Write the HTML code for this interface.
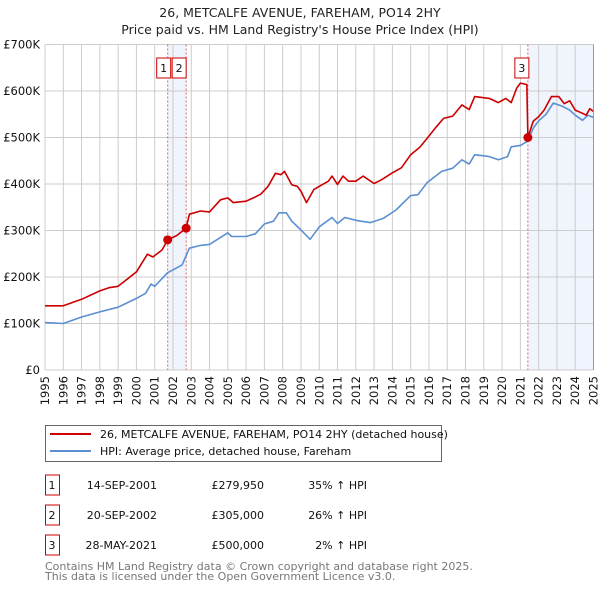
<!DOCTYPE html>
<html><head><meta charset="utf-8">
<style>
body{margin:0;background:#fff;font-family:"DejaVu Sans","Liberation Sans",sans-serif;}
svg text{font-family:"DejaVu Sans","Liberation Sans",sans-serif;}
</style></head>
<body>
<svg id="chart" width="600" height="590" xmlns="http://www.w3.org/2000/svg">
<text x="300" y="17" font-size="12.5" text-anchor="middle" fill="#222">26, METCALFE AVENUE, FAREHAM, PO14 2HY</text>
<text x="300" y="34" font-size="12.5" text-anchor="middle" fill="#222">Price paid vs. HM Land Registry's House Price Index (HPI)</text>
<g id="plot"></g>
<g>
<rect x="45.5" y="425.5" width="396" height="36" fill="#fff" stroke="#666"/>
<line x1="50" y1="434" x2="91" y2="434" stroke="#cc0000" stroke-width="2"/>
<text x="100" y="438" font-size="11" fill="#111">26, METCALFE AVENUE, FAREHAM, PO14 2HY (detached house)</text>
<line x1="50" y1="451" x2="91" y2="451" stroke="#5b8fd1" stroke-width="2"/>
<text x="100" y="455" font-size="11" fill="#111">HPI: Average price, detached house, Fareham</text>
</g>
<g id="table"></g>
<text x="45" y="570" font-size="11" fill="#777">Contains HM Land Registry data © Crown copyright and database right 2025.</text>
<text x="45" y="580" font-size="11" fill="#777">This data is licensed under the Open Government Licence v3.0.</text>
</svg>
<script>
const hpiYears=[1995,1996,1997,1998,1999,2000,2000.5,2000.8,2001,2001.7,2002.5,2002.9,2003.5,2004,2005,2005.2,2006,2006.5,2007,2007.5,2007.8,2008.2,2008.5,2009,2009.5,2010,2010.7,2011,2011.4,2012.1,2012.8,2013.5,2014.2,2015,2015.4,2015.9,2016.7,2017.3,2017.8,2018.2,2018.5,2019.3,2019.8,2020.3,2020.5,2021,2021.4,2021.7,2022,2022.4,2022.8,2023.3,2023.7,2024,2024.4,2024.7,2025];
const hpiValues=[102,100,114,125,135,154,165,185,180,209,226,262,268,270,295,287,287,293,314,320,338,338,320,301,281,308,328,315,328,321,317,326,344,375,377,403,427,434,452,443,463,459,452,459,480,483,492,520,536,550,574,567,559,548,537,548,543];
const priceYears=[1995,1996,1997,1998,1998.5,1999,2000,2000.6,2000.9,2001.4,2001.71,2002.2,2002.72,2002.9,2003.5,2004,2004.6,2005,2005.3,2006,2006.4,2006.8,2007.2,2007.6,2007.9,2008.1,2008.5,2008.8,2009,2009.3,2009.7,2010,2010.5,2010.7,2011,2011.3,2011.6,2012,2012.4,2013,2013.4,2014,2014.5,2015,2015.5,2015.9,2016.4,2016.8,2017.3,2017.8,2018.2,2018.5,2019.3,2019.8,2020.2,2020.5,2020.8,2021,2021.35,2021.41,2021.7,2022,2022.3,2022.7,2023.1,2023.4,2023.7,2024,2024.4,2024.6,2024.8,2025];
const priceValues=[138,138,152,170,177,180,211,249,243,258,280,289,305,335,342,340,366,370,360,363,370,378,395,423,420,427,398,395,384,360,388,395,406,417,399,417,406,406,417,401,409,424,435,463,479,498,523,541,546,570,560,588,584,575,584,575,606,617,614,500,535,545,559,588,588,573,579,559,552,548,562,556];
const saleLabels=["1","2","3"];
const saleYears=[2001.71,2002.72,2021.41];
const saleValues=[279.95,305,500];
const saleDates=["14-SEP-2001","20-SEP-2002","28-MAY-2021"];
const salePrices=["£279,950","£305,000","£500,000"];
const saleHpi=["35% ↑ HPI","26% ↑ HPI","2% ↑ HPI"];
const yTicks=[0,100,200,300,400,500,600,700];
const yTickLabels=["£0","£100K","£200K","£300K","£400K","£500K","£600K","£700K"];
const xTicks=[1995,1996,1997,1998,1999,2000,2001,2002,2003,2004,2005,2006,2007,2008,2009,2010,2011,2012,2013,2014,2015,2016,2017,2018,2019,2020,2021,2022,2023,2024,2025];

const NS="http://www.w3.org/2000/svg";
const X0=45,X1=593.5,Y0=370,Y1=44.5;
const xs=y=>X0+(y-1995)/30*(X1-X0);
const ys=v=>Y0-v/700*(Y0-Y1);
const plot=document.getElementById('plot');
function mk(tag,attrs,parent){const e=document.createElementNS(NS,tag);for(const k in attrs)e.setAttribute(k,attrs[k]);(parent||plot).appendChild(e);return e;}

let b=mk('rect',{x:xs(saleYears[0]),y:Y1,width:xs(saleYears[1])-xs(saleYears[0]),height:Y0-Y1,fill:'#f0f4fc'});


b=mk('rect',{x:xs(saleYears[2]),y:Y1,width:X1-xs(saleYears[2]),height:Y0-Y1,fill:'#f0f4fc'});



xTicks.forEach((t,i)=>{
  const g=mk('line',{x1:xs(t),x2:xs(t),y1:Y1,y2:Y0,stroke:'#ccc','stroke-width':1});
  
  
  const tx=mk('text',{x:0,y:0,'font-size':11.5,fill:'#111','text-anchor':'end',transform:`translate(${xs(t)+4},${Y0+6}) rotate(-90)`});
  tx.textContent=t;
  
  
});
yTicks.forEach((t,i)=>{
  const g=mk('line',{x1:X0,x2:X1,y1:ys(t),y2:ys(t),stroke:'#ccc','stroke-width':1});
  
  
  const tx=mk('text',{x:40,y:ys(t)+4,'font-size':11.5,fill:'#111','text-anchor':'end'});
  tx.textContent=yTickLabels[i];
  
  
});

saleYears.forEach((s,i)=>{
  const l=mk('line',{x1:xs(s),x2:xs(s),y1:Y1,y2:Y0,stroke:'#e06060','stroke-width':1,'stroke-dasharray':'2,2'});
  
  
  const cx=i===0?xs(s)-4:(i===1?xs(s)-7:xs(s)-6);
  const r=mk('rect',{x:cx-7,y:58,width:14,height:20,fill:'#fff',stroke:'#cc0000'});
  
  
  const t=mk('text',{x:cx,y:72,'font-size':11,'text-anchor':'middle',fill:'#111'});
  t.textContent=saleLabels[i];
  
  
});

function line(xa,va,color,name){
  const d=xa.map((x,i)=>(i?'L':'M')+xs(x).toFixed(1)+','+ys(va[i]).toFixed(1)).join('');
  const p=mk('path',{d:d,fill:'none',stroke:color,'stroke-width':1.6,'stroke-linejoin':'round'});
  
  
}
line(hpiYears,hpiValues,'#5b8fd1','hpi-line');
line(priceYears,priceValues,'#cc0000','price-paid-line');
saleYears.forEach((s,i)=>{
  const c=mk('circle',{cx:xs(s),cy:ys(saleValues[i]),r:4.5,fill:'#cc0000'});
  
  
});
mk('line',{x1:X1,x2:X1,y1:Y1,y2:Y0,stroke:'#999'});

const tb=document.getElementById('table');
saleLabels.forEach((lab,i)=>{
  const y=485+i*30;
  const r=mk('rect',{x:45.5,y:y-10,width:14,height:20,fill:'#fff',stroke:'#cc0000'},tb);
  
  
  const cells=[[52,lab,'middle'],[157,saleDates[i],'end'],[264,salePrices[i],'end'],[367,saleHpi[i],'end']];
  cells.forEach(c=>{
    const t=mk('text',{x:c[0],y:y+4,'font-size':11,'text-anchor':c[2],fill:'#111'},tb);
    t.textContent=c[1];
    
    
  });
});
</script>
</body></html>
